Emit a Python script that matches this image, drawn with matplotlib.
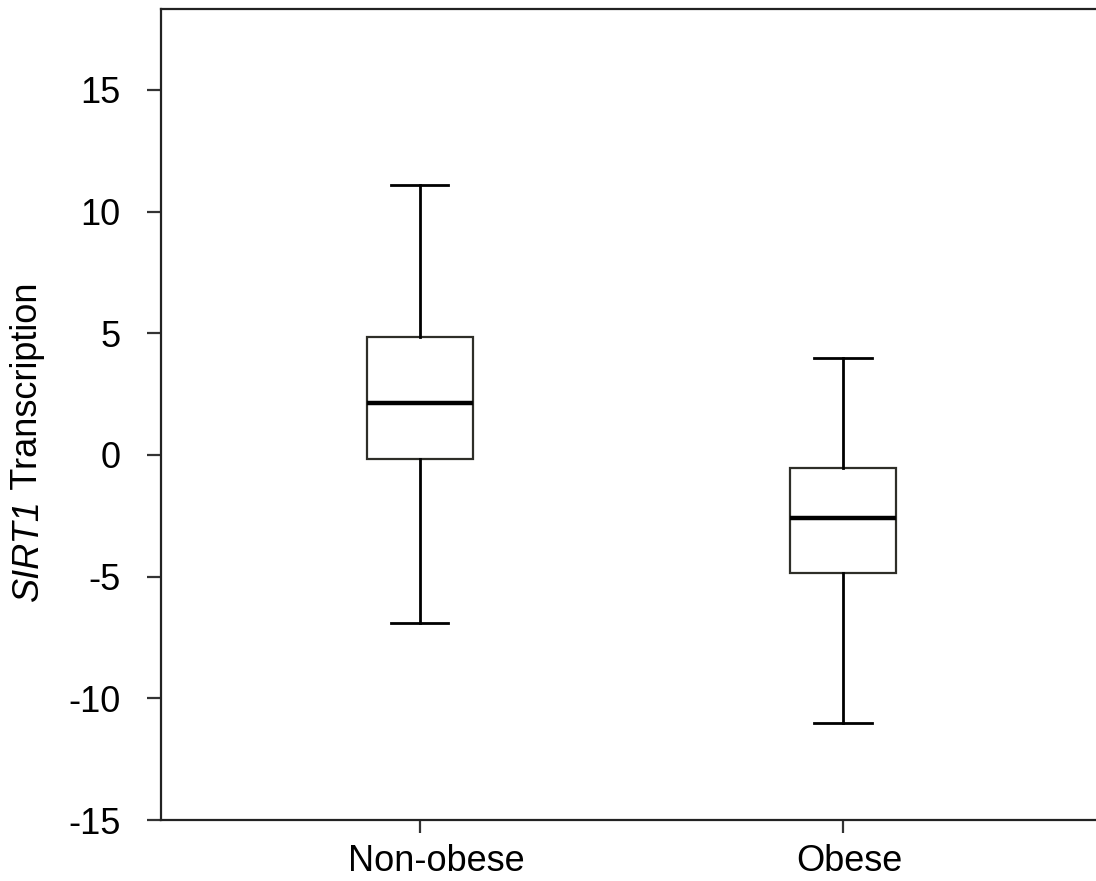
import matplotlib
matplotlib.use("Agg")
import matplotlib.pyplot as plt
import matplotlib.transforms as mtransforms

plt.rcParams['font.family'] = ['Liberation Sans', 'DejaVu Sans']

groups = ["Non-obese", "Obese"]
whisker_low = [-6.9, -11.0]
q1 = [-0.15, -4.87]
median = [2.12, -2.6]
q3 = [4.83, -0.54]
whisker_high = [11.1, 4.0]

yticks = [-15, -10, -5, 0, 5, 10, 15]

W, H = 1096, 881
fig = plt.figure(figsize=(W / 100, H / 100), dpi=100)
left, right, top, bottom = 161, 1096, 9.5, 820
ax = fig.add_axes([left / W, (H - bottom) / H, (right - left) / W, (bottom - top) / H])

stats = []
for i, g in enumerate(groups):
    stats.append(dict(label=g, whislo=whisker_low[i], q1=q1[i], med=median[i],
                      q3=q3[i], whishi=whisker_high[i], fliers=[]))

ax.bxp(stats, positions=[1, 2], widths=0.25, capwidths=0.135, showfliers=False,
       patch_artist=True,
       boxprops=dict(facecolor='white', edgecolor='#2e2e28', linewidth=1.6),
       medianprops=dict(color='black', linewidth=3.2),
       whiskerprops=dict(color='black', linewidth=2.0),
       capprops=dict(color='black', linewidth=2.0))

ax.set_xlim(0.388, 2.598)
ax.set_ylim(-15, 18.3)
ax.set_yticks(yticks)
ax.set_yticklabels([str(t) for t in yticks])
ax.spines['right'].set_visible(False)
for s in ['left', 'bottom', 'top']:
    ax.spines[s].set_linewidth(1.6)
    ax.spines[s].set_color('#222222')

ax.tick_params(axis='y', direction='out', length=10, width=1.6, pad=19,
               labelsize=26, color='#333333')
ax.tick_params(axis='x', direction='out', length=9.5, width=1.6, pad=8,
               labelsize=26, color='#333333')

# category labels sit slightly right of their ticks
for lab, dx in zip(ax.get_xticklabels(), [16, 6]):
    lab.set_transform(lab.get_transform() +
                      mtransforms.ScaledTranslation(dx / 100, 0, fig.dpi_scale_trans))

# y label: italic gene symbol followed by upright word, rotated
x_lab = 28 / W
y_start = 1 - 601 / H
t1 = fig.text(x_lab, y_start, "SIRT1", rotation=90, ha='center', va='bottom',
              fontsize=26, fontstyle='italic')
fig.canvas.draw()
bb = t1.get_window_extent(fig.canvas.get_renderer())
fig.text(x_lab, bb.y1 / H, " Transcription", rotation=90, ha='center', va='bottom',
         fontsize=26)

fig.savefig("out.png", dpi=100)
